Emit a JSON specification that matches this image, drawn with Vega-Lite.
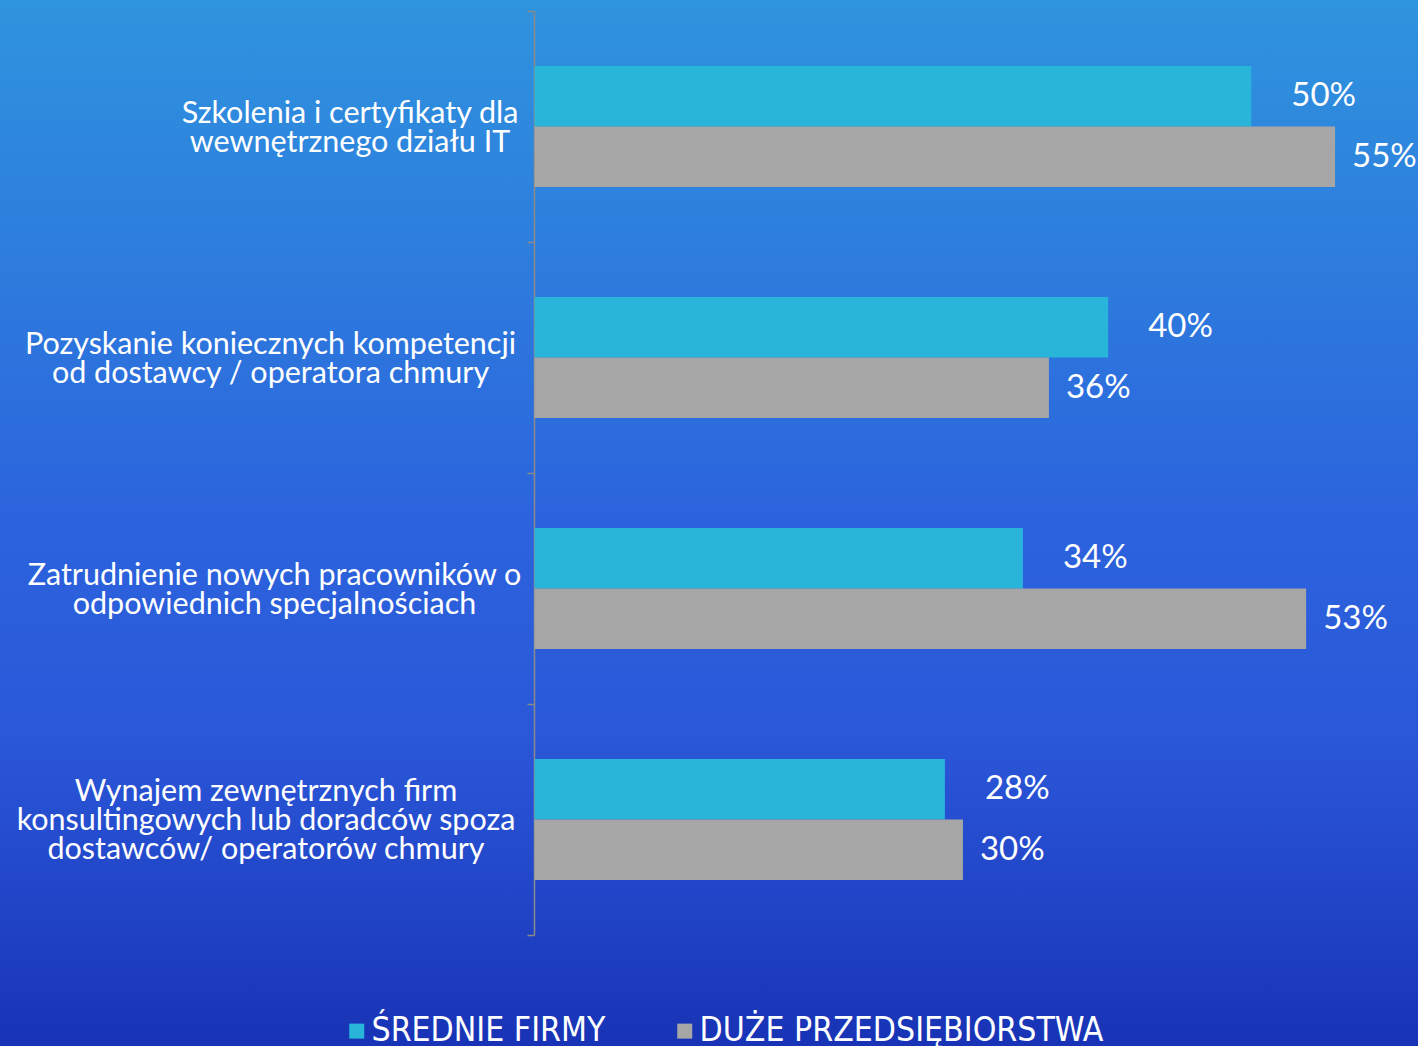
{
  "$schema": "https://vega.github.io/schema/vega-lite/v6.json",
  "width": 1418,
  "height": 1046,
  "padding": 0,
  "autosize": {"type": "none"},
  "background": "#2C62DC",
  "view": {
    "stroke": null,
    "fill": {
      "gradient": "linear", "x1": 0, "y1": 0, "x2": 0, "y2": 1,
      "stops": [
        {"offset": 0, "color": "#2F94DE"},
        {"offset": 0.25, "color": "#2D7CDD"},
        {"offset": 0.5, "color": "#2C63DD"},
        {"offset": 0.7, "color": "#2A58D8"},
        {"offset": 0.85, "color": "#2246C9"},
        {"offset": 1, "color": "#1833B5"}
      ]
    }
  },
  "data": {
    "values": [
      {"kategoria": "Szkolenia i certyfikaty dla\nwewnętrznego działu IT", "grupa": "ŚREDNIE FIRMY", "wartosc": 0.496},
      {"kategoria": "Szkolenia i certyfikaty dla\nwewnętrznego działu IT", "grupa": "DUŻE PRZEDSIĘBIORSTWA", "wartosc": 0.554},
      {"kategoria": "Pozyskanie koniecznych kompetencji\nod dostawcy / operatora chmury", "grupa": "ŚREDNIE FIRMY", "wartosc": 0.397},
      {"kategoria": "Pozyskanie koniecznych kompetencji\nod dostawcy / operatora chmury", "grupa": "DUŻE PRZEDSIĘBIORSTWA", "wartosc": 0.356},
      {"kategoria": "Zatrudnienie nowych pracowników o\nodpowiednich specjalnościach", "grupa": "ŚREDNIE FIRMY", "wartosc": 0.338},
      {"kategoria": "Zatrudnienie nowych pracowników o\nodpowiednich specjalnościach", "grupa": "DUŻE PRZEDSIĘBIORSTWA", "wartosc": 0.534},
      {"kategoria": "Wynajem zewnętrznych firm\nkonsultingowych lub doradców spoza\ndostawców/ operatorów chmury", "grupa": "ŚREDNIE FIRMY", "wartosc": 0.284},
      {"kategoria": "Wynajem zewnętrznych firm\nkonsultingowych lub doradców spoza\ndostawców/ operatorów chmury", "grupa": "DUŻE PRZEDSIĘBIORSTWA", "wartosc": 0.2965}
    ]
  },
  "encoding": {
    "y": {
      "field": "kategoria",
      "type": "nominal",
      "sort": null,
      "scale": {"range": [11, 935], "paddingInner": 0, "paddingOuter": 0},
      "axis": {
        "title": null,
        "orient": "left",
        "offset": -534,
        "domainColor": "#8A8A8A",
        "domainWidth": 1.5,
        "tickColor": "#8A8A8A",
        "tickWidth": 1.5,
        "tickSize": 7,
        "tickBand": "extent",
        "labels": false
      }
    },
    "x": {
      "field": "wartosc",
      "type": "quantitative",
      "scale": {"domain": [0, 0.6114], "range": [534.5, 1418], "nice": false, "zero": false},
      "axis": null
    }
  },
  "layer": [
    {
      "mark": {"type": "bar"},
      "encoding": {
        "yOffset": {
          "field": "grupa",
          "type": "nominal",
          "sort": ["ŚREDNIE FIRMY", "DUŻE PRZEDSIĘBIORSTWA"],
          "scale": {"paddingInner": 0, "paddingOuter": 0.91}
        },
        "color": {
          "field": "grupa",
          "type": "nominal",
          "scale": {"domain": ["ŚREDNIE FIRMY", "DUŻE PRZEDSIĘBIORSTWA"], "range": ["#29B5DA", "#A6A6A6"]},
          "legend": {
            "orient": "none",
            "legendX": 340,
            "legendY": 1014,
            "direction": "horizontal",
            "title": null,
            "padding": 0,
            "symbolType": "square",
            "symbolSize": 225,
            "symbolStrokeWidth": 0,
            "labelFont": "Liberation Sans Narrow, DejaVu Sans Condensed, sans-serif",
            "labelFontSize": 33.5,
            "labelColor": "#FFFFFF",
            "labelOffset": -2,
            "columnPadding": 62,
            "labelLimit": 600
          }
        }
      }
    },
    {
      "mark": {
        "type": "text",
        "align": "left",
        "baseline": "middle",
        "dx": {"expr": "datum.grupa === 'ŚREDNIE FIRMY' ? 40 : 17"},
        "color": "#FFFFFF",
        "font": "Lato",
        "fontSize": 33
      },
      "encoding": {
        "yOffset": {
          "field": "grupa",
          "type": "nominal",
          "sort": ["ŚREDNIE FIRMY", "DUŻE PRZEDSIĘBIORSTWA"],
          "scale": {"paddingInner": 0, "paddingOuter": 0.91}
        },
        "text": {"field": "wartosc", "type": "quantitative", "format": ".0%"}
      }
    },
    {
      "transform": [{"filter": "datum.grupa === 'ŚREDNIE FIRMY'"}],
      "mark": {
        "type": "text",
        "align": "center",
        "baseline": "middle",
        "lineBreak": "\n",
        "lineHeight": 29,
        "dx": {"expr": "datum.kategoria[0] === 'S' ? -184.5 : datum.kategoria[0] === 'P' ? -264 : datum.kategoria[0] === 'Z' ? -260 : -268.5"},
        "dy": {"expr": "datum.kategoria[0] === 'W' ? -28 : -13"},
        "color": "#FFFFFF",
        "font": "Lato",
        "fontSize": 30.5
      },
      "encoding": {
        "x": {"datum": 0},
        "text": {"field": "kategoria", "type": "nominal"}
      }
    }
  ]
}
